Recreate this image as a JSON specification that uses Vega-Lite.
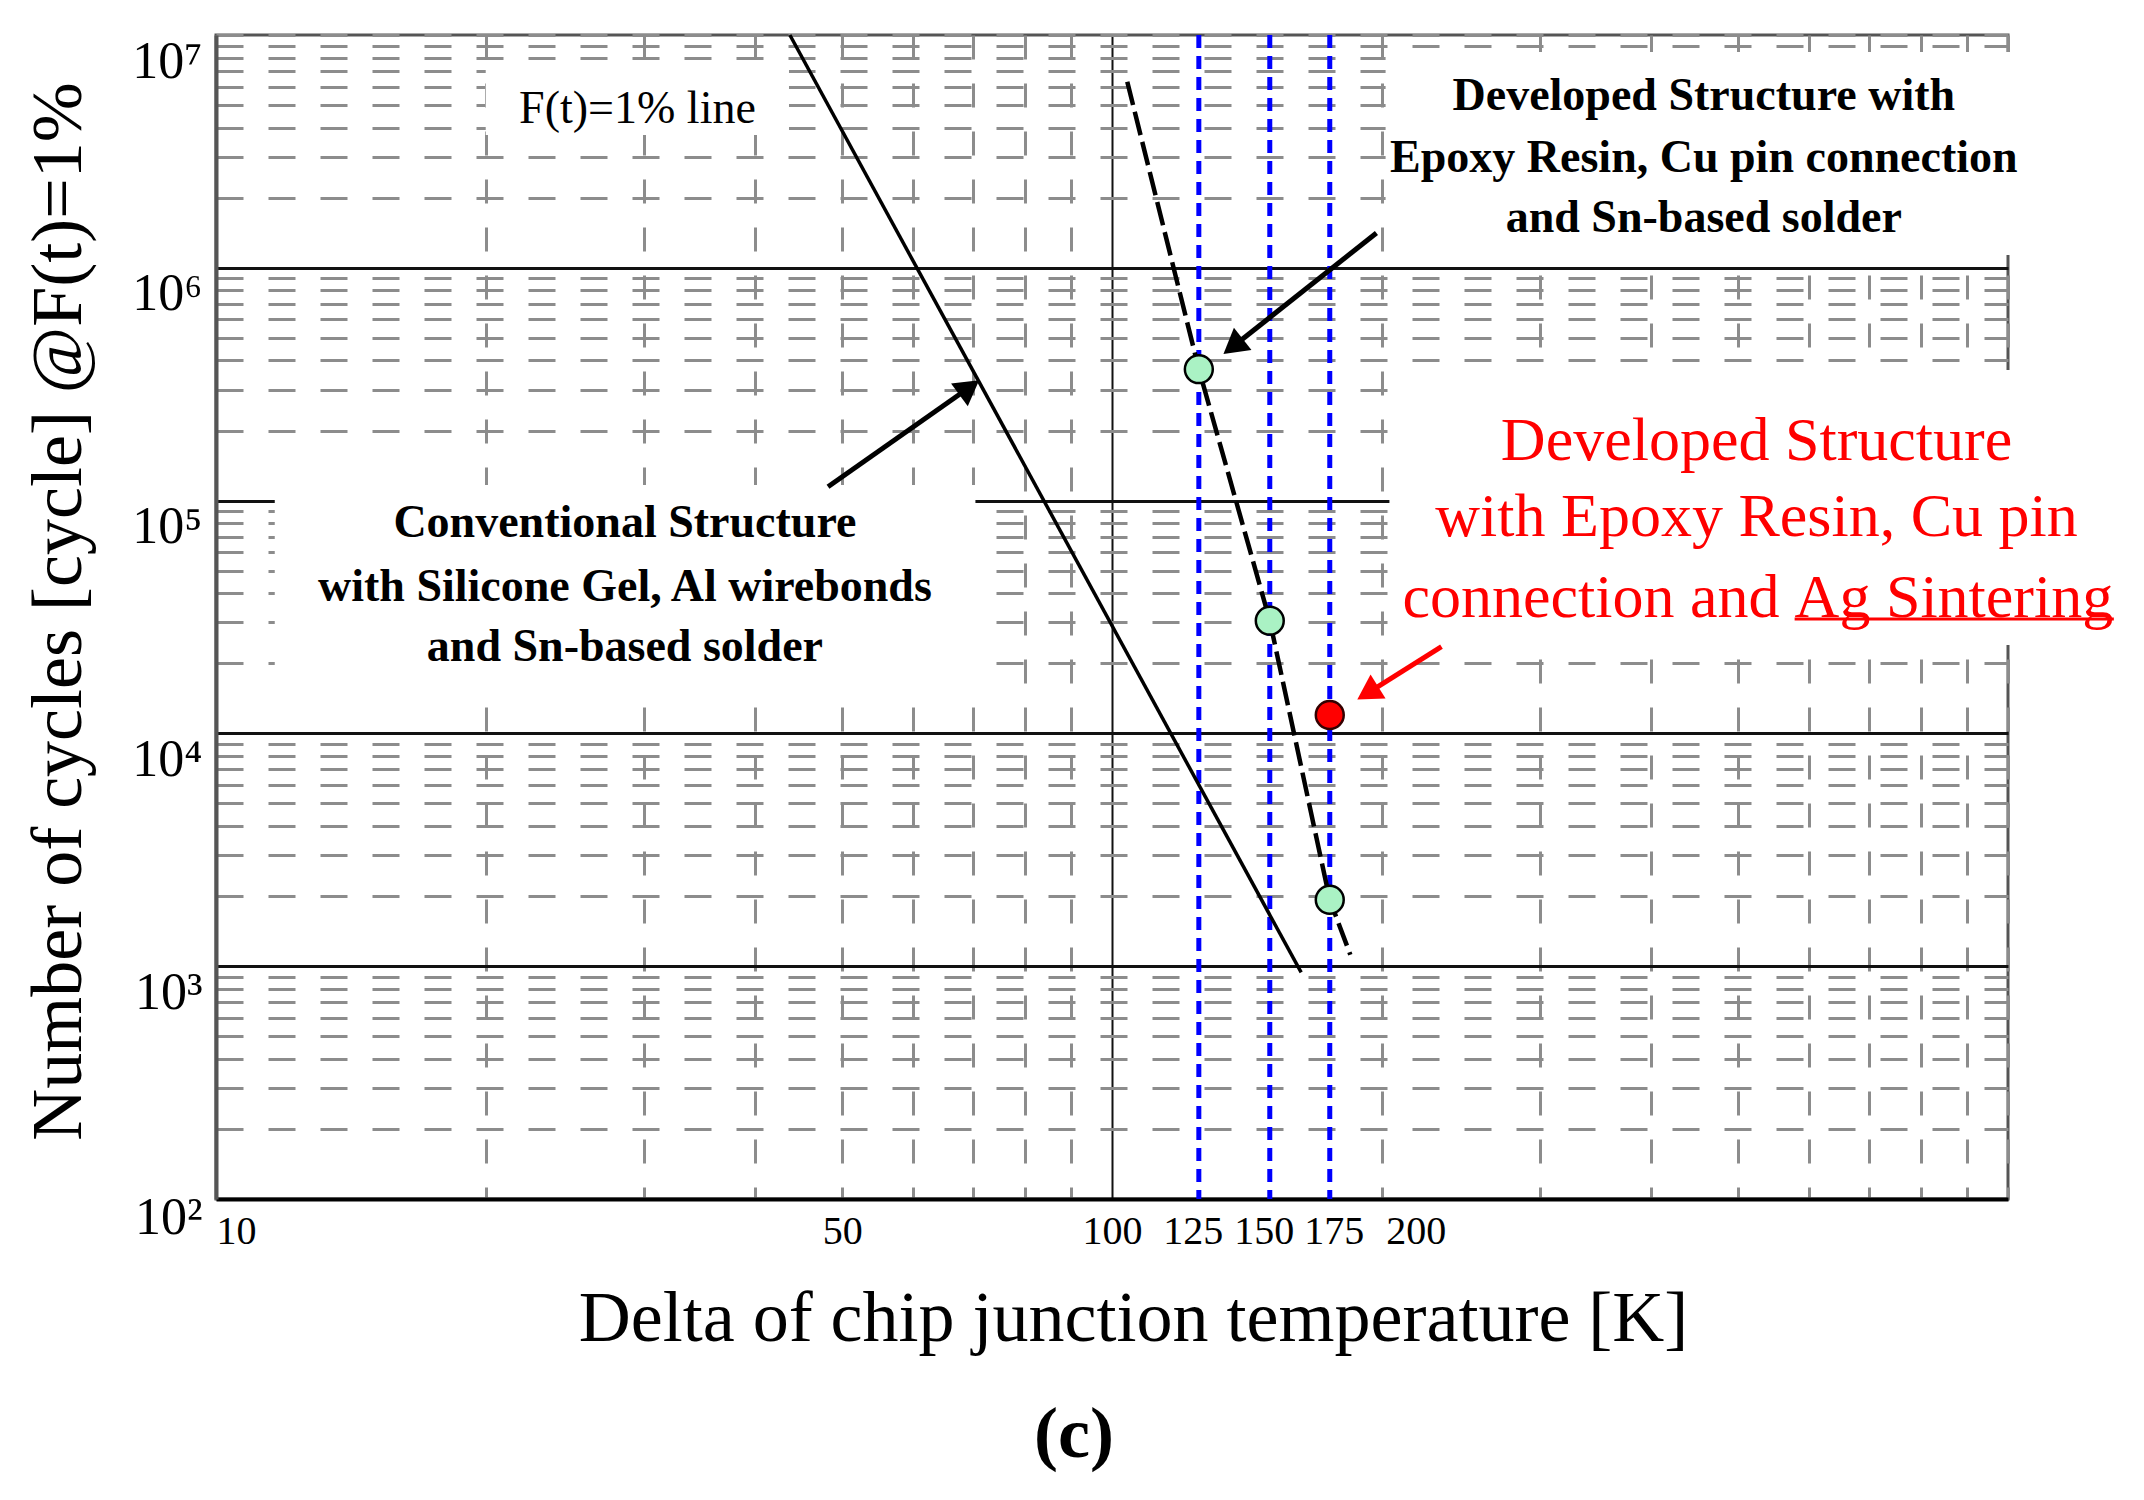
{
  "$schema": "https://vega.github.io/schema/vega-lite/v6.json",
  "width": 1792,
  "height": 1164,
  "autosize": {"type": "none"},
  "padding": {"left": 216, "top": 35, "right": 136, "bottom": 301},
  "background": "white",
  "config": {"view": {"stroke": "#555555", "strokeWidth": 3}, "font": "Liberation Serif"},
  "datasets": {
    "boxes": [
      {"x1": 20, "x2": 43.6, "y1": 7580000, "y2": 3720000},
      {"x1": 202, "x2": 1403, "y1": 8450000, "y2": 1135000},
      {"x1": 204, "x2": 1403, "y1": 364000, "y2": 24000},
      {"x1": 11.63, "x2": 70.4, "y1": 116700, "y2": 15360}
    ],
    "blue": [{"dT": 125}, {"dT": 150}, {"dT": 175}],
    "conv": [{"dT": 43.7, "N": 10000000}, {"dT": 162.6, "N": 940}],
    "dev": [
      {"dT": 104, "N": 6300000},
      {"dT": 125, "N": 367000},
      {"dT": 150, "N": 30500},
      {"dT": 175, "N": 1930},
      {"dT": 184.5, "N": 1120}
    ],
    "pts": [
      {"dT": 125, "N": 367000, "kind": "Sn-based solder"},
      {"dT": 150, "N": 30500, "kind": "Sn-based solder"},
      {"dT": 175, "N": 1930, "kind": "Sn-based solder"},
      {"dT": 175, "N": 12000, "kind": "Ag sintering"}
    ],
    "arrows": [
      {"arrow": "conv", "x1": 48.2, "y1": 114700, "x2": 69.3, "y2": 306000},
      {"arrow": "dev", "x1": 197.3, "y1": 1411000, "x2": 136.5, "y2": 459000},
      {"arrow": "red", "x1": 233.2, "y1": 23600, "x2": 192.9, "y2": 14900}
    ],
    "underline": [{"x1": 577.9, "x2": 1312.6, "N": 31000}],
    "notes": [
      {"role": "ft", "dT": 29.54, "N": 4810000, "text": "F(t)=1% line"},
      {"role": "dev", "dT": 457.6, "N": 5470000, "text": "Developed Structure  with"},
      {"role": "dev", "dT": 457.6, "N": 2960000, "text": "Epoxy Resin, Cu pin connection"},
      {"role": "dev", "dT": 457.6, "N": 1637000, "text": "and Sn-based solder"},
      {"role": "conv", "dT": 28.6, "N": 80400, "text": "Conventional Structure"},
      {"role": "conv", "dT": 28.6, "N": 42700, "text": "with Silicone  Gel, Al wirebonds"},
      {"role": "conv", "dT": 28.6, "N": 23600, "text": "and Sn-based solder"},
      {"role": "red", "dT": 524, "N": 180000, "text": "Developed Structure"},
      {"role": "red", "dT": 524, "N": 85300, "text": "with Epoxy Resin, Cu pin"},
      {"role": "redA", "dT": 555.9, "N": 38200, "text": "connection and"},
      {"role": "redB", "dT": 577.9, "N": 38200, "text": "Ag Sintering"},
      {"role": "fig", "dT": 90.7, "N": 9.69, "text": "(c)"}
    ]
  },
  "layer": [
    {
      "data": {"name": "boxes"},
      "mark": {"type": "rect", "fill": "white", "strokeWidth": 0},
      "encoding": {
        "x": {
          "field": "x1", "type": "quantitative",
          "scale": {"type": "log", "domain": [10, 1000], "nice": false},
          "axis": {
            "title": "Delta of chip junction temperature [K]",
            "values": [10, 20, 30, 40, 50, 60, 70, 80, 90, 100, 125, 150, 175, 200, 300, 400, 500, 600, 700, 800, 900, 1000],
            "labelExpr": "indexof([10,50,100,125,150,175,200], datum.value) >= 0 ? '' + datum.value : ''",
            "labelFont": "Liberation Serif", "labelFontSize": 40, "labelColor": "#000000",
            "labelPadding": 12, "labelFlush": true, "labelOverlap": false, "labelBound": false, "labelBaseline": "top",
            "labelOffset": {"condition": [
              {"test": "datum.value == 200", "value": 34},
              {"test": "datum.value == 125", "value": -6},
              {"test": "datum.value == 150", "value": -6},
              {"test": "datum.value == 175", "value": 4}
            ], "value": 0},
            "ticks": false, "tickSize": 0,
            "domainColor": "#000000", "domainWidth": 4,
            "grid": true,
            "gridColor": {"condition": {"test": "datum.value == 100", "value": "#111111"}, "value": "#8c8c8c"},
            "gridDash": {"condition": {"test": "datum.value == 100", "value": []}, "value": [24, 24]},
            "gridWidth": {"condition": {"test": "datum.value == 100", "value": 2}, "value": 3},
            "gridOpacity": {"condition": {"test": "datum.value == 125 || datum.value == 150 || datum.value == 175", "value": 0}, "value": 1},
            "titleFont": "Liberation Serif", "titleFontSize": 72, "titleFontWeight": "normal", "titleColor": "#000000",
            "titleX": 917, "titleY": 141, "titleBaseline": "alphabetic", "titleAlign": "center"
          }
        },
        "x2": {"field": "x2"},
        "y": {
          "field": "y1", "type": "quantitative",
          "scale": {"type": "log", "domain": [100, 10000000], "nice": false},
          "axis": {
            "title": "Number of cycles [cycle] @F(t)=1%",
            "values": [100, 200, 300, 400, 500, 600, 700, 800, 900, 1000, 2000, 3000, 4000, 5000, 6000, 7000, 8000, 9000, 10000, 20000, 30000, 40000, 50000, 60000, 70000, 80000, 90000, 100000, 200000, 300000, 400000, 500000, 600000, 700000, 800000, 900000, 1000000, 2000000, 3000000, 4000000, 5000000, 6000000, 7000000, 8000000, 9000000, 10000000],
            "labelExpr": "datum.value == 100 ? '10\u00b2' : datum.value == 1000 ? '10\u00b3' : datum.value == 10000 ? '10\u2074' : datum.value == 100000 ? '10\u2075' : datum.value == 1000000 ? '10\u2076' : datum.value == 10000000 ? '10\u2077' : ''",
            "labelFont": "Liberation Serif", "labelFontSize": 52, "labelColor": "#000000",
            "labelBaseline": "alphabetic", "labelOffset": {"condition": {"test": "datum.value == 100", "value": 34}, "value": 42}, "labelPadding": 14, "labelAlign": "right",
            "labelOverlap": false, "labelBound": false,
            "ticks": false, "tickSize": 0,
            "domainColor": "#555555", "domainWidth": 4,
            "grid": true,
            "gridColor": {"condition": {"test": "indexof([1000,10000,100000,1000000], datum.value) >= 0", "value": "#111111"}, "value": "#8c8c8c"},
            "gridDash": {"condition": {"test": "indexof([1000,10000,100000,1000000], datum.value) >= 0", "value": []}, "value": [27, 25]},
            "gridWidth": 3,
            "titleFont": "Liberation Serif", "titleFontSize": 72, "titleFontWeight": "normal", "titleColor": "#000000",
            "titleX": -136, "titleY": 576, "titleBaseline": "alphabetic", "titleAlign": "center", "titleAngle": 270
          }
        },
        "y2": {"field": "y2"}
      }
    },
    {
      "data": {"name": "blue"},
      "mark": {"type": "rule", "color": "#0000ff", "strokeWidth": 5, "strokeDash": [13, 8]},
      "encoding": {"x": {"field": "dT", "type": "quantitative"}}
    },
    {
      "data": {"name": "conv"},
      "mark": {"type": "line", "color": "#000000", "strokeWidth": 3.5},
      "encoding": {
        "x": {"field": "dT", "type": "quantitative"},
        "y": {"field": "N", "type": "quantitative"}
      }
    },
    {
      "data": {"name": "dev"},
      "mark": {"type": "line", "color": "#000000", "strokeWidth": 4.5, "strokeDash": [24, 7]},
      "encoding": {
        "x": {"field": "dT", "type": "quantitative"},
        "y": {"field": "N", "type": "quantitative"}
      }
    },
    {
      "data": {"name": "arrows"},
      "transform": [{"filter": "datum.arrow != 'red'"}],
      "mark": {"type": "rule", "color": "#000000", "strokeWidth": 5},
      "encoding": {
        "x": {"field": "x1", "type": "quantitative"},
        "y": {"field": "y1", "type": "quantitative"},
        "x2": {"field": "x2"},
        "y2": {"field": "y2"}
      }
    },
    {
      "data": {"name": "arrows"},
      "transform": [{"filter": "datum.arrow == 'red'"}],
      "mark": {"type": "rule", "color": "#ff0000", "strokeWidth": 5},
      "encoding": {
        "x": {"field": "x1", "type": "quantitative"},
        "y": {"field": "y1", "type": "quantitative"},
        "x2": {"field": "x2"},
        "y2": {"field": "y2"}
      }
    },
    {
      "data": {"name": "arrows"},
      "transform": [{"filter": "datum.arrow == 'conv'"}],
      "mark": {"type": "point", "shape": "triangle-up", "filled": true, "color": "#000000", "opacity": 1, "size": 800, "angle": 53.7},
      "encoding": {
        "x": {"field": "x2", "type": "quantitative"},
        "y": {"field": "y2", "type": "quantitative"}
      }
    },
    {
      "data": {"name": "arrows"},
      "transform": [{"filter": "datum.arrow == 'dev'"}],
      "mark": {"type": "point", "shape": "triangle-up", "filled": true, "color": "#000000", "opacity": 1, "size": 800, "angle": 231.7},
      "encoding": {
        "x": {"field": "x2", "type": "quantitative"},
        "y": {"field": "y2", "type": "quantitative"}
      }
    },
    {
      "data": {"name": "arrows"},
      "transform": [{"filter": "datum.arrow == 'red'"}],
      "mark": {"type": "point", "shape": "triangle-up", "filled": true, "color": "#ff0000", "opacity": 1, "size": 800, "angle": 238},
      "encoding": {
        "x": {"field": "x2", "type": "quantitative"},
        "y": {"field": "y2", "type": "quantitative"}
      }
    },
    {
      "data": {"name": "pts"},
      "transform": [{"filter": "datum.kind == 'Sn-based solder'"}],
      "mark": {"type": "point", "shape": "circle", "filled": true, "fill": "#aaf2c4", "stroke": "#000000", "strokeWidth": 2.5, "opacity": 1, "size": 780},
      "encoding": {
        "x": {"field": "dT", "type": "quantitative"},
        "y": {"field": "N", "type": "quantitative"}
      }
    },
    {
      "data": {"name": "pts"},
      "transform": [{"filter": "datum.kind == 'Ag sintering'"}],
      "mark": {"type": "point", "shape": "circle", "filled": true, "fill": "#ff0000", "stroke": "#330000", "strokeWidth": 2.5, "opacity": 1, "size": 780},
      "encoding": {
        "x": {"field": "dT", "type": "quantitative"},
        "y": {"field": "N", "type": "quantitative"}
      }
    },
    {
      "data": {"name": "underline"},
      "mark": {"type": "rule", "color": "#ff0000", "strokeWidth": 3},
      "encoding": {
        "x": {"field": "x1", "type": "quantitative"},
        "x2": {"field": "x2"},
        "y": {"field": "N", "type": "quantitative"}
      }
    },
    {
      "data": {"name": "notes"},
      "transform": [{"filter": "datum.role == 'ft'"}],
      "mark": {"type": "text", "font": "Liberation Serif", "fontSize": 46, "color": "#000000", "align": "center", "baseline": "middle"},
      "encoding": {
        "x": {"field": "dT", "type": "quantitative"},
        "y": {"field": "N", "type": "quantitative"},
        "text": {"field": "text"}
      }
    },
    {
      "data": {"name": "notes"},
      "transform": [{"filter": "datum.role == 'dev' || datum.role == 'conv'"}],
      "mark": {"type": "text", "font": "Liberation Serif", "fontSize": 46, "fontWeight": "bold", "color": "#000000", "align": "center", "baseline": "middle"},
      "encoding": {
        "x": {"field": "dT", "type": "quantitative"},
        "y": {"field": "N", "type": "quantitative"},
        "text": {"field": "text"}
      }
    },
    {
      "data": {"name": "notes"},
      "transform": [{"filter": "datum.role == 'red'"}],
      "mark": {"type": "text", "font": "Liberation Serif", "fontSize": 62, "color": "#ff0000", "align": "center", "baseline": "middle"},
      "encoding": {
        "x": {"field": "dT", "type": "quantitative"},
        "y": {"field": "N", "type": "quantitative"},
        "text": {"field": "text"}
      }
    },
    {
      "data": {"name": "notes"},
      "transform": [{"filter": "datum.role == 'redA'"}],
      "mark": {"type": "text", "font": "Liberation Serif", "fontSize": 62, "color": "#ff0000", "align": "right", "baseline": "middle"},
      "encoding": {
        "x": {"field": "dT", "type": "quantitative"},
        "y": {"field": "N", "type": "quantitative"},
        "text": {"field": "text"}
      }
    },
    {
      "data": {"name": "notes"},
      "transform": [{"filter": "datum.role == 'redB'"}],
      "mark": {"type": "text", "font": "Liberation Serif", "fontSize": 62, "color": "#ff0000", "align": "left", "baseline": "middle"},
      "encoding": {
        "x": {"field": "dT", "type": "quantitative"},
        "y": {"field": "N", "type": "quantitative"},
        "text": {"field": "text"}
      }
    },
    {
      "data": {"name": "notes"},
      "transform": [{"filter": "datum.role == 'fig'"}],
      "mark": {"type": "text", "font": "Liberation Serif", "fontSize": 72, "fontWeight": "bold", "color": "#000000", "align": "center", "baseline": "middle"},
      "encoding": {
        "x": {"field": "dT", "type": "quantitative"},
        "y": {"field": "N", "type": "quantitative"},
        "text": {"field": "text"}
      }
    }
  ]
}
